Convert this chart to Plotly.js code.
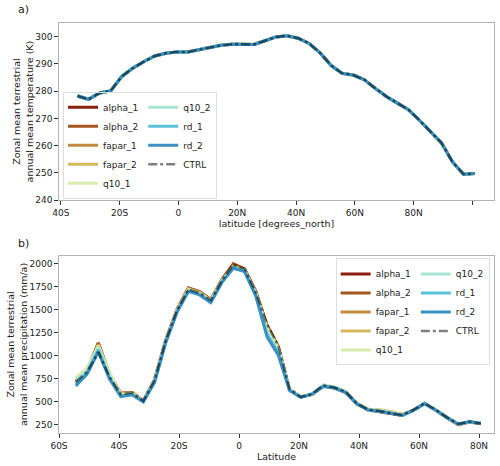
<!DOCTYPE html>
<html>
<head>
<meta charset="utf-8">
<script src="https://cdn.plot.ly/plotly-3.0.1.min.js"></script>
<style>html,body{margin:0;padding:0;background:#fff;}#chart{width:500px;height:466px;}</style>
</head>
<body>
<div id="chart"></div>
<script>
// ---------- data ----------
var seriesNames = ['alpha_1','alpha_2','fapar_1','fapar_2','q10_1','q10_2','rd_1','rd_2','CTRL'];

// panel a) latitude and temperature (K); all experiments overlap
var latTemp = [-34.3,-30.55,-26.8,-23.05,-19.3,-15.55,-11.8,-8.05,-4.3,-0.55,3.2,6.95,10.7,14.45,18.2,21.95,25.7,29.45,33.2,36.95,40.7,44.45,48.2,51.95,55.7,59.45,63.2,66.95,70.7,74.45,78.2,81.95,85.7,89.45,93.2,96.95,100.7];
var tempCtrl = [278.2,277.0,279.3,280.1,285.3,288.4,290.8,292.9,293.9,294.4,294.4,295.2,296.1,296.8,297.2,297.2,297.1,298.5,299.9,300.3,299.4,297.5,294.0,289.4,286.5,285.9,284.2,281.0,278.0,275.6,273.2,269.3,265.0,261.0,254.0,249.5,249.8];

var tempTickVals = [-40,-20,0,20,40,60,80,100];
var tempTickText = ['40S','20S','0','20N','40N','60N','80N',''];

// panel b) latitude and precipitation (mm/a)
var latPrec = [-54.4,-50.65,-46.9,-43.15,-39.4,-35.65,-31.9,-28.15,-24.4,-20.65,-16.9,-13.15,-9.4,-5.65,-1.9,1.85,5.6,9.35,13.1,16.85,20.6,24.35,28.1,31.85,35.6,39.35,43.1,46.85,50.6,54.35,58.1,61.85,65.6,69.35,73.1,76.85,80.6];
var precAlpha1 = [720,835,1135,790,590,600,510,735,1170,1500,1735,1695,1610,1830,2000,1945,1700,1330,1100,630,550,580,670,650,600,475,410,390,370,350,405,480,408,325,250,280,262];
var precAlpha2 = [725,840,1140,795,588,598,508,738,1172,1505,1738,1698,1612,1832,1998,1940,1695,1320,1095,628,552,578,668,648,598,474,408,392,372,352,404,478,406,322,248,278,258];
var precFapar1 = [730,845,1125,800,585,595,505,735,1165,1500,1730,1690,1605,1825,1975,1935,1690,1310,1090,628,552,580,672,652,603,478,412,400,385,360,406,480,408,326,252,279,262];
var precFapar2 = [735,850,1115,805,585,595,505,733,1160,1495,1725,1685,1600,1815,1950,1925,1685,1300,1085,630,553,582,675,655,606,480,418,410,392,362,408,481,410,328,255,280,265];
var precQ10_1 = [755,865,1105,810,575,590,503,730,1160,1490,1720,1680,1600,1820,1960,1930,1680,1295,1080,632,552,585,685,660,610,482,415,405,385,360,407,481,410,330,258,283,268];
var precQ10_2 = [735,830,1090,780,560,578,500,720,1150,1480,1705,1668,1585,1810,1965,1925,1670,1260,1050,625,548,580,680,658,605,478,412,400,378,352,406,480,408,327,256,282,266];
var precRd1 = [690,810,1065,755,560,580,500,715,1150,1480,1705,1668,1585,1805,1960,1920,1660,1230,1030,625,548,582,670,650,600,475,410,395,375,350,405,480,408,326,256,283,265];
var precRd2 = [670,800,1040,745,555,575,498,710,1145,1475,1700,1662,1578,1800,1955,1915,1650,1205,1005,620,545,580,665,648,598,474,408,395,373,350,404,478,406,324,254,281,262];
var precCtrl = [714,823,1041,769,580,599,507,733,1168,1495,1721,1684,1604,1822,1990,1945,1690,1345,1110,640,550,583,678,653,608,479,413,398,373,355,410,482,410,328,257,282,261];

var precTickVals = [-60,-40,-20,0,20,40,60,80];
var precTickText = ['60S','40S','20S','0','20N','40N','60N','80N'];

// ---------- styling ----------
var colors = ['#8c1d0c','#a5561f','#bf8a3f','#d5b75c','#d8ebac','#a7e5d6','#5cc2da','#3b91c2','rgba(0,0,0,0.5)'];
var groupOf = ['c1','c1','c1','c1','c1','c2','c2','c2','c2'];
var tempSeries = [tempCtrl,tempCtrl,tempCtrl,tempCtrl,tempCtrl,tempCtrl,tempCtrl,tempCtrl,tempCtrl];
var precSeries = [precAlpha1,precAlpha2,precFapar1,precFapar2,precQ10_1,precQ10_2,precRd1,precRd2,precCtrl];

var traces = [];
seriesNames.forEach(function(n, i){
  var isCtrl = n === 'CTRL';
  var line = {color: colors[i], width: isCtrl ? 2.5 : 3, dash: isCtrl ? 'dashdot' : 'solid'};
  traces.push({x: latTemp, y: tempSeries[i], name: n, type: 'scatter', mode: 'lines',
    line: line, xaxis: 'x', yaxis: 'y', legend: 'legend', legendgroup: 'a' + groupOf[i], hoverinfo: 'skip'});
});
seriesNames.forEach(function(n, i){
  var isCtrl = n === 'CTRL';
  var line = {color: colors[i], width: isCtrl ? 2.5 : 3, dash: isCtrl ? 'dashdot' : 'solid'};
  traces.push({x: latPrec, y: precSeries[i], name: n, type: 'scatter', mode: 'lines',
    line: line, xaxis: 'x2', yaxis: 'y2', legend: 'legend2', legendgroup: 'b' + groupOf[i], hoverinfo: 'skip'});
});

var FONT = 'DejaVu Sans, sans-serif';
var tickFont = {family: FONT, size: 9, color: '#222'};
var titleFont = {family: FONT, size: 9.5, color: '#222'};
var axisCommon = {showgrid: false, zeroline: false, showline: true, mirror: true,
  linecolor: '#b3b3b3', linewidth: 1.3, ticks: 'outside', ticklen: 3.5, tickwidth: 1,
  tickcolor: '#333', tickfont: tickFont};

function ax(extra){ var o = {}; for (var k in axisCommon) o[k] = axisCommon[k]; for (var k2 in extra) o[k2] = extra[k2]; return o; }

var legendCommon = {orientation: 'h', traceorder: 'grouped',
  bordercolor: '#dddddd', borderwidth: 1, font: {family: FONT, size: 9, color: '#222'}};

var layout = {
  width: 500, height: 466,
  margin: {l: 59.3, r: 5.7, t: 23, b: 33.3, pad: 0},
  paper_bgcolor: '#fff', plot_bgcolor: '#fff',
  font: {family: FONT, size: 9, color: '#222'},
  xaxis: ax({domain: [0,1], range: [-40.6, 107.3], tickvals: tempTickVals, ticktext: tempTickText,
    anchor: 'y', title: {text: 'latitude [degrees_north]', font: titleFont, standoff: 2}}),
  yaxis: ax({domain: [0.568, 1], range: [240, 305], tickvals: [240,250,260,270,280,290,300],
    anchor: 'x', title: {text: 'Zonal mean terrestrial<br>annual mean temperature (K)', font: titleFont, standoff: 0}}),
  xaxis2: ax({domain: [0,1], range: [-60, 85], tickvals: precTickVals, ticktext: precTickText,
    anchor: 'y2', title: {text: 'Latitude', font: titleFont, standoff: 2}}),
  yaxis2: ax({domain: [0, 0.432], range: [158, 2087], tickvals: [250,500,750,1000,1250,1500,1750,2000],
    anchor: 'x2', title: {text: 'Zonal mean terrestrial<br>annual mean precipitation (mm/a)', font: titleFont, standoff: 0}}),
  legend: Object.assign({}, legendCommon, {x: 0.0092, y: 0.5716, xanchor: 'left', yanchor: 'bottom',
    bgcolor: 'rgba(255,255,255,0)'}),
  legend2: Object.assign({}, legendCommon, {x: 0.99, y: 0.4257, xanchor: 'right', yanchor: 'top',
    bgcolor: 'rgba(255,255,255,0.8)'}),
  annotations: [
    {text: 'a)', xref: 'paper', yref: 'paper', x: -0.0995, y: 1.032, xanchor: 'left', yanchor: 'middle',
      showarrow: false, font: {family: FONT, size: 11, color: '#222'}},
    {text: 'b)', xref: 'paper', yref: 'paper', x: -0.0995, y: 0.463, xanchor: 'left', yanchor: 'middle',
      showarrow: false, font: {family: FONT, size: 11, color: '#222'}}
  ],
  showlegend: true
};

Plotly.newPlot('chart', traces, layout, {displayModeBar: false, staticPlot: true});
</script>
</body>
</html>
